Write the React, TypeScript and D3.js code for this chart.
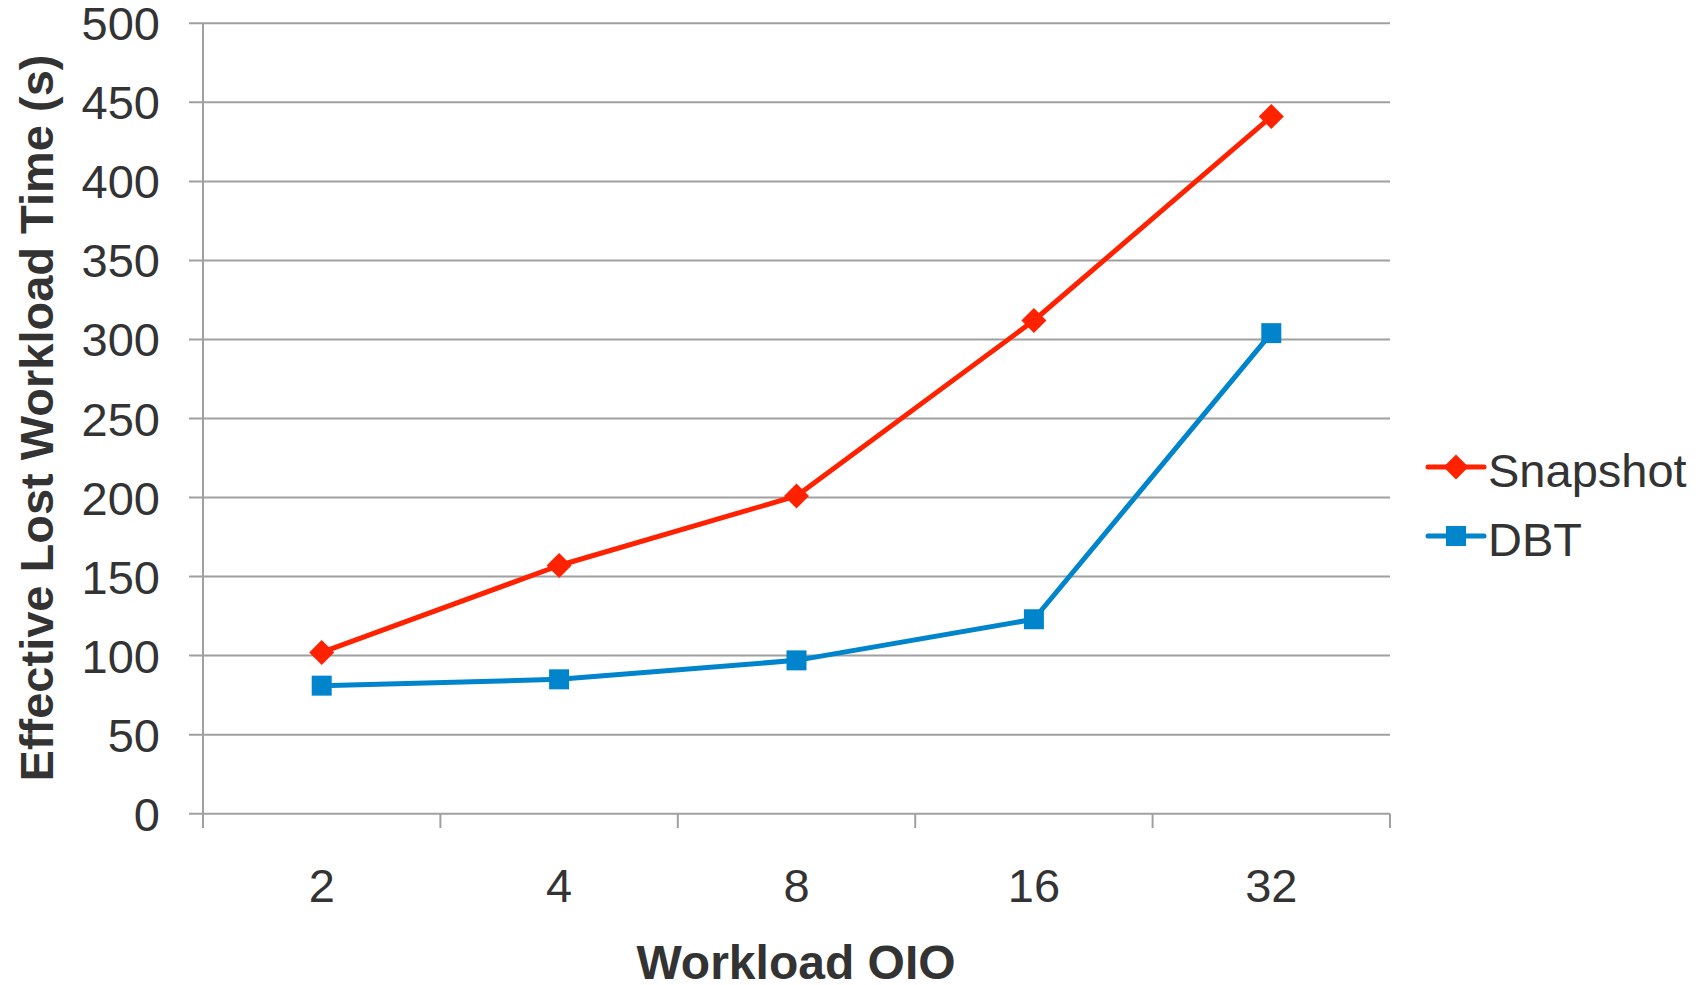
import React, { useEffect, useRef } from "react";
import * as d3 from "d3";

const categories = ["2", "4", "8", "16", "32"];
const snapshotValues = [102, 157, 201, 312, 441];
const dbtValues = [81, 85, 97, 123, 304];
const yTicks = [0, 50, 100, 150, 200, 250, 300, 350, 400, 450, 500];
const seriesNames = ["Snapshot", "DBT"];

const W = 1703;
const H = 985;
const FONT = "'Liberation Sans', Arial, sans-serif";
const TEXT = "#333333";
const GRID = "#a0a0a0";
const RED = "#ff2200";
const BLUE = "#0084cc";

export default function App() {
  const ref = useRef<SVGSVGElement>(null);

  useEffect(() => {
    const svg = d3.select(ref.current);
    svg.selectAll("*").remove();

    const x = d3.scaleBand<string>().domain(categories).range([203, 1390]).padding(0);
    const y = d3.scaleLinear().domain([0, 500]).range([813.7, 23.3]);

    // gridlines
    svg.append("g").selectAll("line").data(yTicks).join("line")
      .attr("x1", 189).attr("x2", 1390)
      .attr("y1", (d) => y(d)).attr("y2", (d) => y(d))
      .attr("stroke", GRID).attr("stroke-width", 2);

    // y axis line
    svg.append("line").attr("x1", 203).attr("x2", 203)
      .attr("y1", y(500)).attr("y2", 828)
      .attr("stroke", GRID).attr("stroke-width", 2);

    // x ticks at band boundaries
    const bounds = categories.map((c) => x(c) as number).concat([x.range()[1]]);
    svg.append("g").selectAll("line").data(bounds).join("line")
      .attr("x1", (d) => d).attr("x2", (d) => d)
      .attr("y1", y(0)).attr("y2", 828)
      .attr("stroke", GRID).attr("stroke-width", 2);

    // y tick labels
    svg.append("g").selectAll("text").data(yTicks).join("text")
      .attr("x", 160).attr("y", (d) => y(d) + 17)
      .attr("text-anchor", "end")
      .attr("font-family", FONT).attr("font-size", 47).attr("fill", TEXT)
      .text((d) => String(d));

    // x tick labels
    svg.append("g").selectAll("text").data(categories).join("text")
      .attr("x", (d) => (x(d) as number) + x.bandwidth() / 2)
      .attr("y", 902)
      .attr("text-anchor", "middle")
      .attr("font-family", FONT).attr("font-size", 47).attr("fill", TEXT)
      .text((d) => d);

    // axis titles
    svg.append("text")
      .attr("transform", `translate(53, 418) rotate(-90)`)
      .attr("text-anchor", "middle")
      .attr("font-family", FONT).attr("font-weight", "bold")
      .attr("font-size", 47).attr("fill", TEXT)
      .text("Effective Lost Workload Time (s)");

    svg.append("text")
      .attr("x", 796).attr("y", 979)
      .attr("text-anchor", "middle")
      .attr("font-family", FONT).attr("font-weight", "bold")
      .attr("font-size", 48).attr("fill", TEXT)
      .text("Workload OIO");

    const cx = (i: number) => (x(categories[i]) as number) + x.bandwidth() / 2;
    const line = d3.line<number>().x((_, i) => cx(i)).y((d) => y(d));

    const diamond = d3.symbol().type(d3.symbolDiamond2).size(400)();
    const square = d3.symbol().type(d3.symbolSquare).size(400)();

    // Snapshot
    svg.append("path").datum(snapshotValues).attr("d", line)
      .attr("fill", "none").attr("stroke", RED).attr("stroke-width", 5)
      .attr("stroke-linejoin", "round");
    svg.append("g").selectAll("path").data(snapshotValues).join("path")
      .attr("d", diamond as string)
      .attr("transform", (d, i) => `translate(${cx(i)},${y(d)})`)
      .attr("fill", RED);

    // DBT
    svg.append("path").datum(dbtValues).attr("d", line)
      .attr("fill", "none").attr("stroke", BLUE).attr("stroke-width", 5)
      .attr("stroke-linejoin", "round");
    svg.append("g").selectAll("path").data(dbtValues).join("path")
      .attr("d", square as string)
      .attr("transform", (d, i) => `translate(${cx(i)},${y(d)})`)
      .attr("fill", BLUE);

    // legend
    const legendY = [467, 536];
    const colors = [RED, BLUE];
    const markers = [diamond, square];
    seriesNames.forEach((name, i) => {
      const g = svg.append("g");
      g.append("line").attr("x1", 1428).attr("x2", 1484)
        .attr("y1", legendY[i]).attr("y2", legendY[i])
        .attr("stroke", colors[i]).attr("stroke-width", 5).attr("stroke-linecap", "round");
      g.append("path").attr("d", markers[i] as string)
        .attr("transform", `translate(1456,${legendY[i]})`)
        .attr("fill", colors[i]);
      g.append("text").attr("x", 1488).attr("y", legendY[i] + 20)
        .attr("font-family", FONT).attr("font-size", 47).attr("fill", TEXT)
        .text(name);
    });
  }, []);

  return (
    <svg
      ref={ref}
      width={W}
      height={H}
      style={{ position: "absolute", left: 0, top: 0, display: "block", background: "#fff" }}
    />
  );
}
